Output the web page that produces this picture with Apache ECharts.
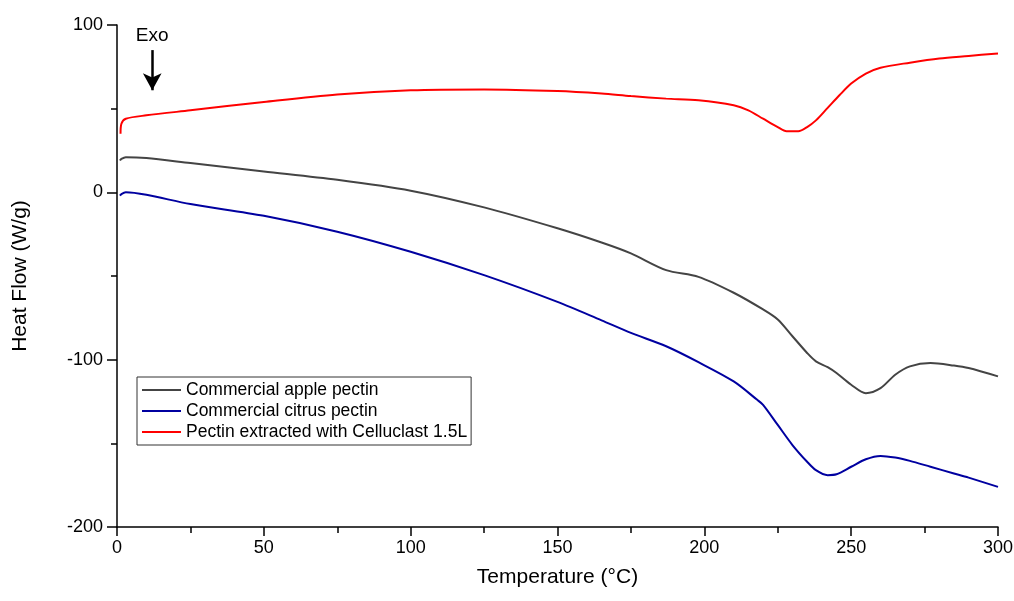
<!DOCTYPE html>
<html>
<head>
<meta charset="utf-8">
<script src="https://cdn.jsdelivr.net/npm/echarts@6/dist/echarts.min.js"></script>
<style>html,body{margin:0;padding:0;background:#fff}#c{width:1014px;height:601px}</style>
</head>
<body>
<div id="c"></div>
<script>
var seriesNames = ['Commercial apple pectin', 'Commercial citrus pectin', 'Pectin extracted with Celluclast 1.5L'];
var tempApple = [1, 1.5, 3, 10, 25, 50, 75, 100, 125, 150, 165, 175, 187, 198, 210, 220, 225, 230, 235, 238, 242, 245, 250, 255, 260, 265, 270, 277, 285, 290, 300];
var heatApple = [19, 20, 21, 20.5, 17.5, 12.5, 7.5, 1, -9, -21.5, -30, -36.5, -46.5, -50.5, -60, -70, -76, -86, -96, -101, -104.5, -108, -115, -120, -117, -109, -104, -102, -103.5, -105, -110];
var tempCitrus = [1, 1.5, 3, 10, 25, 50, 75, 100, 125, 150, 165, 175, 187, 198, 210, 218, 220, 225, 230, 235, 238, 242, 245, 250, 255, 260, 265, 270, 277, 285, 290, 300];
var heatCitrus = [-2, -1, 0, -1.5, -7, -14, -23.5, -35.5, -49.5, -65.5, -76.5, -84, -92, -101.5, -113, -124, -127, -139, -151, -161, -166, -169, -168.5, -164, -159.5, -157.5, -158.5, -160.5, -164, -168, -170.5, -176];
var tempCellu = [1.2, 1.5, 3, 10, 25, 50, 75, 100, 125, 150, 165, 175, 187, 198, 210, 215, 220, 225, 228, 232, 235, 238, 242, 246, 250, 255, 260, 270, 280, 290, 300];
var heatCellu = [35, 41, 44, 46, 49, 54, 58.5, 61, 61.5, 60.5, 59, 57.5, 56, 55, 52, 49, 44, 39, 36.5, 36.5, 39, 43, 50.5, 58, 65, 71, 74.5, 77.5, 80, 81.5, 83];
var exoArrow = { x: 12, from: 85, to: 61, label: 'Exo' };
var xTicks = { min: 0, max: 300, interval: 50 };
var yTicks = { min: -200, max: 100, interval: 100 };

function pairs(t, v) { return t.map(function (x, i) { return [x, v[i]]; }); }

var chart = echarts.init(document.getElementById('c'), null, { renderer: 'canvas' });
var font = 'Arial, "Liberation Sans", sans-serif';
chart.setOption({
  animation: false,
  backgroundColor: '#fff',
  grid: { left: 117, right: 16, top: 25, bottom: 74, outerBoundsMode: 'none', containLabel: false },
  legend: {
    orient: 'vertical', left: 137, top: 377,
    data: seriesNames,
    itemWidth: 39, itemHeight: 2, itemGap: 3,
    padding: [4, 4, 4, 4],
    borderColor: '#333', borderWidth: 1,
    textStyle: { color: '#000', fontSize: 17.5, fontFamily: font }
  },
  xAxis: {
    type: 'value', min: xTicks.min, max: xTicks.max, interval: xTicks.interval,
    name: 'Temperature (°C)', nameLocation: 'middle', nameGap: 40,
    nameTextStyle: { color: '#000', fontSize: 21, fontFamily: font },
    axisLine: { show: true, onZero: false, lineStyle: { color: '#000', width: 1.5 } },
    axisTick: { show: true, length: 9, lineStyle: { color: '#000', width: 1.5 } },
    minorTick: { show: true, splitNumber: 2, length: 6, lineStyle: { color: '#000', width: 1.5 } },
    axisLabel: { color: '#000', fontSize: 18, fontFamily: font, margin: 12 },
    splitLine: { show: false }
  },
  yAxis: {
    type: 'value', min: yTicks.min, max: yTicks.max, interval: yTicks.interval,
    name: 'Heat Flow (W/g)', nameLocation: 'middle', nameGap: 86,
    nameTextStyle: { color: '#000', fontSize: 21, fontFamily: font },
    axisLine: { show: true, onZero: false, lineStyle: { color: '#000', width: 1.5 } },
    axisTick: { show: true, length: 10, lineStyle: { color: '#000', width: 1.5 } },
    minorTick: { show: true, splitNumber: 2, length: 6, lineStyle: { color: '#000', width: 1.5 } },
    axisLabel: { color: '#000', fontSize: 18, fontFamily: font, margin: 14 },
    splitLine: { show: false }
  },
  series: [
    { name: seriesNames[0], type: 'line', symbol: 'none', smooth: 0.3, data: pairs(tempApple, heatApple),
      lineStyle: { color: '#444', width: 2 }, itemStyle: { color: '#444' } },
    { name: seriesNames[1], type: 'line', symbol: 'none', smooth: 0.3, data: pairs(tempCitrus, heatCitrus),
      lineStyle: { color: '#0000a0', width: 2 }, itemStyle: { color: '#0000a0' } },
    { name: seriesNames[2], type: 'line', symbol: 'none', smooth: 0.3, data: pairs(tempCellu, heatCellu),
      lineStyle: { color: '#ff0000', width: 2 }, itemStyle: { color: '#ff0000' },
      markLine: {
        silent: true, symbol: ['none', 'arrow'], symbolSize: [14, 17],
        lineStyle: { color: '#000', width: 2.5, type: 'solid' },
        label: { show: true, position: 'start', formatter: exoArrow.label, color: '#000', fontSize: 19, fontFamily: font, distance: 5 },
        data: [[{ coord: [exoArrow.x, exoArrow.from] }, { coord: [exoArrow.x, exoArrow.to] }]]
      } }
  ]
});
</script>
</body>
</html>
